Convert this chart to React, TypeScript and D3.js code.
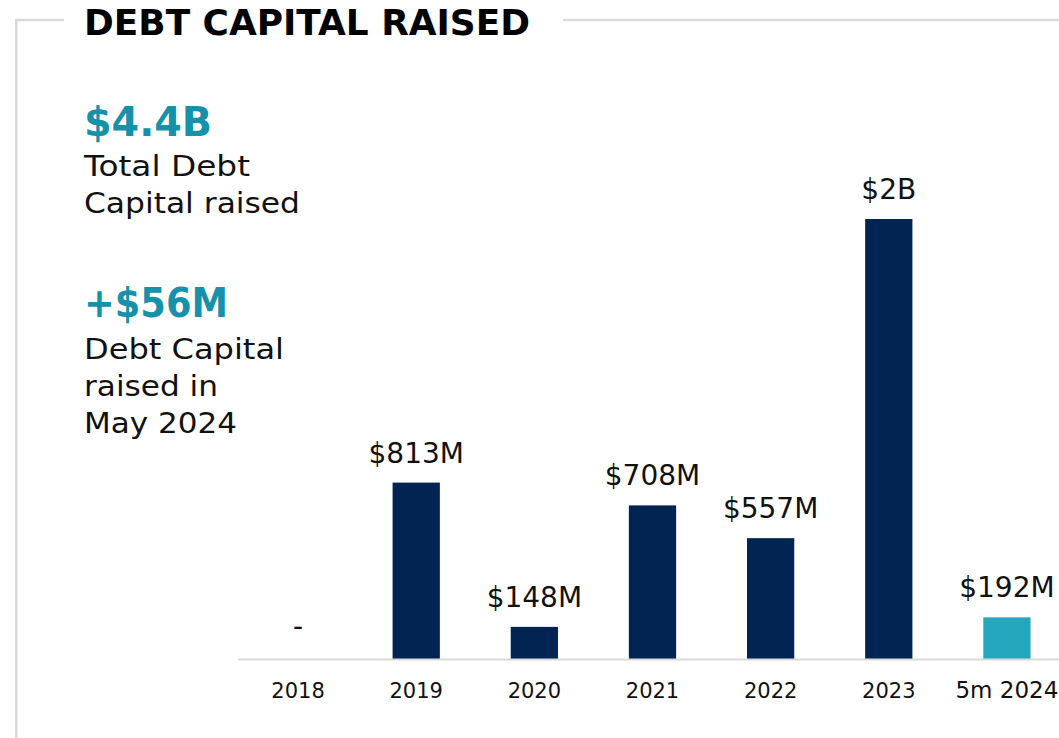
import React from "react";
import * as d3 from "d3";

const categories = ["2018", "2019", "2020", "2021", "2022", "2023", "5m 2024"];
const values = [0, 813, 148, 708, 557, 2028, 192];
const valueLabels = ["-", "$813M", "$148M", "$708M", "$557M", "$2B", "$192M"];
const highlight = [false, false, false, false, false, false, true];

const titleText = "DEBT CAPITAL RAISED";
const kpi1 = "$4.4B";
const kpi1Lines = ["Total Debt", "Capital raised"];
const kpi2 = "+$56M";
const kpi2Lines = ["Debt Capital", "raised in", "May 2024"];

const W = 1059;
const H = 738;
const FONT = "'DejaVu Sans', sans-serif";
const NAVY = "#012452";
const TEAL_BAR = "#24a6bd";
const TEAL_TXT = "#1591aa";
const GRAY = "#d9d9d9";

export default function App() {
  const x = d3
    .scaleBand<string>()
    .domain(categories)
    .range([239, 1066])
    .paddingInner(0.6)
    .paddingOuter(0.3);
  const y = d3.scaleLinear().domain([0, 2028]).range([659, 219]);
  const baseY = y(0);

  return (
    <svg
      width={W}
      height={H}
      style={{ position: "absolute", left: 0, top: 0, background: "#fff" }}
      fontFamily={FONT}
    >
      {/* frame */}
      <line x1={15} x2={64} y1={20} y2={20} stroke={GRAY} strokeWidth={2.5} />
      <line x1={563} x2={W} y1={20} y2={20} stroke={GRAY} strokeWidth={2.5} />
      <line x1={16.3} x2={16.3} y1={19} y2={H} stroke={GRAY} strokeWidth={2.5} />

      <text x={84} y={35} fontSize={35} fontWeight={700} fill="#000" textLength={446} lengthAdjust="spacingAndGlyphs">
        {titleText}
      </text>

      {/* KPIs */}
      <text x={84} y={136} fontSize={40} fontWeight={700} fill={TEAL_TXT} textLength={128} lengthAdjust="spacingAndGlyphs">
        {kpi1}
      </text>
      {kpi1Lines.map((t, i) => (
        <text key={t} x={84} y={176 + i * 37} fontSize={29} fill="#111" textLength={[166, 216][i]} lengthAdjust="spacingAndGlyphs">
          {t}
        </text>
      ))}
      <text x={84} y={317} fontSize={40} fontWeight={700} fill={TEAL_TXT} textLength={144} lengthAdjust="spacingAndGlyphs">
        {kpi2}
      </text>
      {kpi2Lines.map((t, i) => (
        <text key={t} x={84} y={359 + i * 37} fontSize={29} fill="#111" textLength={[200, 134, 153][i]} lengthAdjust="spacingAndGlyphs">
          {t}
        </text>
      ))}

      {/* bars */}
      {categories.map((c, i) => {
        const bx = x(c) as number;
        const bw = x.bandwidth();
        const top = y(values[i]);
        return (
          <g key={c}>
            {values[i] > 0 && (
              <rect x={bx} y={top} width={bw} height={baseY - top} fill={highlight[i] ? TEAL_BAR : NAVY} />
            )}
            <text x={bx + bw / 2} y={top - 20 - (values[i] > 0 ? 0 : 3)} fontSize={28} textAnchor="middle" fill="#111">
              {valueLabels[i]}
            </text>
            <text x={bx + bw / 2} y={698} fontSize={c.length > 4 ? 23 : 21} textAnchor="middle" fill="#111">
              {c}
            </text>
          </g>
        );
      })}

      <line x1={238} x2={W} y1={baseY + 0.5} y2={baseY + 0.5} stroke={GRAY} strokeWidth={2} />
    </svg>
  );
}
